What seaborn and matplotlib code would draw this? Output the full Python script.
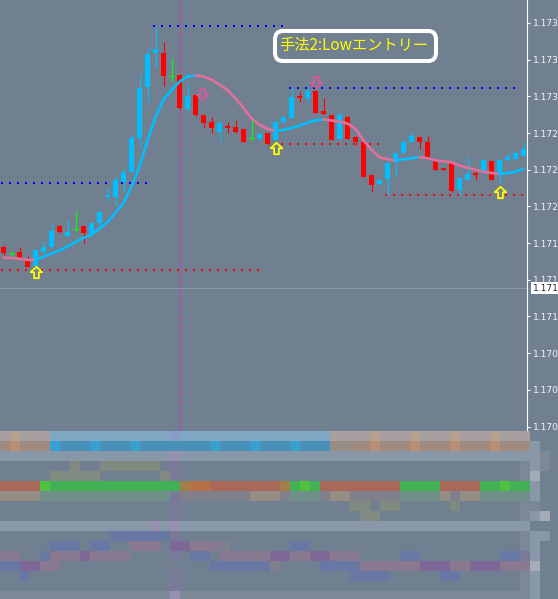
import numpy as np
import pandas as pd
import matplotlib
matplotlib.use("Agg")
import matplotlib.pyplot as plt
import seaborn as sns
from matplotlib.path import Path
from matplotlib.patches import FancyBboxPatch
from matplotlib.colors import ListedColormap
from matplotlib import transforms

# ---------------- data ----------------
opens = [1.17176, 1.17171, 1.17172, 1.17163, 1.17158, 1.17172, 1.17176, 1.17196, 1.17187, 1.17193,
         1.17196, 1.17190, 1.17199, 1.17224, 1.17224, 1.17238, 1.17248, 1.17280, 1.17329, 1.17361,
         1.17361, 1.17339, 1.17340, 1.17308, 1.17321, 1.17302, 1.17296, 1.17286, 1.17292, 1.17291,
         1.17289, 1.17280, 1.17279, 1.17285, 1.17278, 1.17296, 1.17299, 1.17320, 1.17318, 1.17325,
         1.17306, 1.17302, 1.17279, 1.17300, 1.17281, 1.17276, 1.17245, 1.17236, 1.17241, 1.17257,
         1.17266, 1.17276, 1.17281, 1.17276, 1.17260, 1.17252, 1.17256, 1.17231, 1.17240, 1.17247,
         1.17247, 1.17258, 1.17246, 1.17259, 1.17260, 1.17263]
highs = [1.17178, 1.17172, 1.17176, 1.17168, 1.17174, 1.17181, 1.17199, 1.17197, 1.17202, 1.17211,
         1.17196, 1.17200, 1.17210, 1.17234, 1.17243, 1.17251, 1.17283, 1.17342, 1.17367, 1.17386,
         1.17372, 1.17356, 1.17341, 1.17331, 1.17322, 1.17302, 1.17300, 1.17296, 1.17296, 1.17297,
         1.17289, 1.17297, 1.17285, 1.17285, 1.17297, 1.17301, 1.17328, 1.17324, 1.17328, 1.17325,
         1.17318, 1.17302, 1.17305, 1.17301, 1.17282, 1.17276, 1.17246, 1.17240, 1.17256, 1.17266,
         1.17278, 1.17286, 1.17281, 1.17282, 1.17260, 1.17252, 1.17258, 1.17242, 1.17262, 1.17249,
         1.17260, 1.17258, 1.17260, 1.17266, 1.17267, 1.17276]
lows = [1.17169, 1.17166, 1.17166, 1.17157, 1.17154, 1.17171, 1.17176, 1.17190, 1.17186, 1.17192,
        1.17180, 1.17189, 1.17195, 1.17220, 1.17216, 1.17229, 1.17248, 1.17272, 1.17315, 1.17347,
        1.17330, 1.17334, 1.17308, 1.17307, 1.17301, 1.17290, 1.17285, 1.17276, 1.17285, 1.17285,
        1.17276, 1.17278, 1.17278, 1.17274, 1.17278, 1.17295, 1.17299, 1.17315, 1.17316, 1.17304,
        1.17303, 1.17278, 1.17278, 1.17279, 1.17274, 1.17243, 1.17229, 1.17235, 1.17226, 1.17245,
        1.17266, 1.17276, 1.17270, 1.17262, 1.17250, 1.17250, 1.17229, 1.17226, 1.17240, 1.17240,
        1.17247, 1.17240, 1.17237, 1.17258, 1.17260, 1.17263]
closes = [1.17171, 1.17171, 1.17167, 1.17157, 1.17173, 1.17176, 1.17192, 1.17191, 1.17191, 1.17193,
          1.17190, 1.17199, 1.17210, 1.17226, 1.17240, 1.17248, 1.17280, 1.17328, 1.17360, 1.17365,
          1.17339, 1.17339, 1.17309, 1.17320, 1.17302, 1.17295, 1.17290, 1.17295, 1.17290, 1.17286,
          1.17276, 1.17280, 1.17284, 1.17275, 1.17296, 1.17300, 1.17319, 1.17318, 1.17325, 1.17304,
          1.17303, 1.17278, 1.17302, 1.17279, 1.17276, 1.17243, 1.17235, 1.17240, 1.17256, 1.17266,
          1.17276, 1.17282, 1.17276, 1.17262, 1.17250, 1.17250, 1.17230, 1.17242, 1.17246, 1.17245,
          1.17259, 1.17240, 1.17259, 1.17262, 1.17266, 1.17270]
ma_values = [1.17166, 1.17166, 1.17165, 1.17164, 1.17164, 1.17167, 1.17170, 1.17173, 1.17177, 1.17181,
             1.17185, 1.17188, 1.17194, 1.17200, 1.17209, 1.17218, 1.17234, 1.17253, 1.17278, 1.17300,
             1.17317, 1.17326, 1.17334, 1.17339, 1.17340, 1.17339, 1.17336, 1.17331, 1.17326, 1.17318,
             1.17309, 1.17299, 1.17293, 1.17289, 1.17287, 1.17288, 1.17290, 1.17292, 1.17295, 1.17297,
             1.17298, 1.17297, 1.17296, 1.17294, 1.17289, 1.17278, 1.17269, 1.17262, 1.17260, 1.17259,
             1.17260, 1.17261, 1.17262, 1.17261, 1.17259, 1.17258, 1.17257, 1.17254, 1.17252, 1.17250,
             1.17248, 1.17247, 1.17246, 1.17247, 1.17248, 1.17251]

level_prices = [1.17387, 1.17237, 1.17154, 1.17328, 1.17275, 1.17226]
level_start = [19, 0, 0, 36, 35, 48]
level_end = [35, 18, 32, 64, 47, 65]
level_type = ["high", "high", "low", "high", "low", "low"]

up_signal_bar = [4, 34, 62]
up_signal_price = [1.17152, 1.17271, 1.17229]
down_signal_bar = [24.8, 39]
down_signal_price = [1.17322, 1.17334]

entry_bar = 22
tick_prices = [1.17005, 1.17040, 1.17075, 1.17110, 1.17145, 1.17180,
               1.17215, 1.17250, 1.17285, 1.17320, 1.17355, 1.17390]
hline_price = 1.17137
hline_label = "1.17113"
title_text = "手法2:Lowエントリー"

mosaic_palette = {
    '.': '#708090', 's': '#7a8898', 'g': '#8898a8', 'h': '#7c8896', 'x': '#a4acb8',
    'a': '#a8a0a0', 'A': '#b6a08e', 'b': '#80a8c4', 'd': '#8a9cc8', 'T': '#a08a80',
    'O': '#b88e74', 'n': '#968e84', 'B': '#4890b8', 'C': '#38a0d0', 'o': '#808a80',
    'R': '#aa6858', 'G': '#44b055', 'L': '#50c040', 'r': '#b87048', 'y': '#a08048',
    'm': '#6e9088', 'k': '#80808c', 'p': '#6878a4', 'q': '#887890', 'v': '#7e6898',
    'u': '#9890b0', 'w': '#7a7a98',
}
mosaic_rows = [
    "aAaaa" + "b" * 12 + "d" + "b" * 15 + "aaaaAaaaAaaaAaaaAaaa" + "..",
    "TOTTT" + "CBBBCBBBCBBB" + "B" + "BBBCBBBCBBBCBBB" + "nnTTOTTTOTTTOTTTOTTT" + "g.",
    "g" * 17 + "u" + "g" * 35 + "gs",
    "." * 7 + "o" + ".." + "o" * 6 + "." + "w" + "." * 34 + "s" + "gs",
    "." * 5 + "o" * 5 + "." * 6 + "o" + "w" + "." * 34 + "s" + "x.",
    "RRRR" + "L" + "G" * 13 + "y" + "rr" + "R" * 7 + "y" + "GLG" + "R" * 8 + "GGGG" + "RRRR" + "GGLGG" + "g.",
    "nnnn" + "m" * 13 + "w" + "k" * 7 + "nnn" + "k" + "mmm" + "k" + "nn" + "kkkkk" + "mmmm" + "n" + "k" + "nn" + "mm" + "mmm" + "g.",
    "." * 17 + "w" + "." * 17 + "oo" + "." + "oo" + "." * 5 + "o" + "." * 6 + "s" + "s.",
    "." * 17 + "w" + "." * 18 + "oo" + "." * 14 + "s" + "gx",
    "g" * 15 + "u" + "g" + "u" + "g" * 35 + "..",
    "." * 11 + "ppppp" + "p" + "w" + "." * 34 + "s" + "gg",
    "." * 5 + "ppp" + "." + "pp" + ".." + "qqq" + "." + "vv" + "qqq" + "k" + "." * 6 + "pp" + "." * 21 + "s" + "g.",
    "qq" + ".." + "p" + "qqq" + "v" + "qqqq" + "...." + "w" + "." + "pp" + "." + "qqqqq" + "vv" + "qq" + "vv" + "qqq" + "...." + "pp" + "." * 8 + "pp" + "w" + "g.",
    "pp" + "vv" + "qq" + "." * 15 + "pppppp" + "k" + "...." + "pppp" + "qqqq" + "qq" + "vvv" + "qq" + "vvv" + "qq" + "q" + "x.",
    ".." + "p" + "." * 14 + "w" + "." * 17 + "pppp" + "." * 5 + "pp" + "." * 6 + "s" + "g.",
    "." * 17 + "w" + "." * 34 + "s" + "g.",
    "h" * 17 + "u" + "h" * 35 + "g.",
]

# ---------------- style ----------------
BG = '#708090'
BULL = '#00bfff'
BEAR = '#ff0000'
DOJI = '#00ff00'
MA_UP = '#00bfff'
MA_DN = '#e0719a'

sns.set_style('dark', {'axes.facecolor': BG, 'figure.facecolor': BG})
plt.rcParams['font.family'] = ['DejaVu Sans']

W, H = 558, 599
fig = plt.figure(figsize=(W / 100, H / 100), dpi=100)
fig.patch.set_facecolor(BG)

ax = fig.add_axes([0, (H - 431) / H, 527 / W, 431 / H])
ax.set_facecolor(BG)

df = pd.DataFrame(dict(x=np.arange(len(opens)), o=opens, h=highs, l=lows, c=closes))
bull = df[df.c > df.o]
bear = df[df.c < df.o]
doji = df[df.c == df.o]

ax.vlines(bull.x, bull.l, bull.h, color=BULL, lw=0.8, zorder=3)
ax.bar(bull.x, bull.c - bull.o, bottom=bull.o, width=0.72, color=BULL, linewidth=0, zorder=3)
ax.vlines(bear.x, bear.l, bear.h, color=BEAR, lw=0.8, zorder=3)
ax.bar(bear.x, bear.o - bear.c, bottom=bear.c, width=0.72, color=BEAR, linewidth=0, zorder=3)
ax.vlines(doji.x, doji.l, doji.h, color=DOJI, lw=0.8, zorder=3)
ax.hlines(doji.c, doji.x - 0.33, doji.x + 0.33, color=DOJI, lw=0.8, zorder=3)

# moving average coloured by direction
ma = np.array(ma_values)
dirs = np.where(np.diff(ma) > 0, 1, 0)
start = 0
for i in range(1, len(dirs) + 1):
    if i == len(dirs) or dirs[i] != dirs[start]:
        seg = slice(start, i + 1)
        ax.plot(df.x[seg], ma[seg], color=MA_UP if dirs[start] else MA_DN,
                lw=1.9, solid_capstyle='round', zorder=4)
        start = i

# dotted high/low levels
for p, s, e, t in zip(level_prices, level_start, level_end, level_type):
    xs = np.arange(s, e + 1) - 0.25
    sns.scatterplot(x=xs, y=np.full(len(xs), p), marker='s', s=2.6, linewidth=0,
                    color='#0000ff' if t == 'high' else '#ff0000', ax=ax, zorder=2)

# vertical entry line
ax.axvline(entry_bar, color='#c040c0', lw=0.8, dashes=(5.5, 2.2), zorder=2)

# current price line
ax.axhline(hline_price, color='#8a9aac', lw=0.7, zorder=1)

# arrows
up_path = Path([(0, 1), (1, 0.05), (0.42, 0.05), (0.42, -1), (-0.42, -1),
                (-0.42, 0.05), (-1, 0.05), (0, 1)], closed=True)
down_path = Path([(0, -1), (1, -0.05), (0.42, -0.05), (0.42, 1), (-0.42, 1),
                  (-0.42, -0.05), (-1, -0.05), (0, -1)], closed=True)
ax.plot(up_signal_bar, up_signal_price, ls='none', marker=up_path, ms=8.2,
        mfc='none', mec='#ffff00', mew=1.3, zorder=5)
ax.plot(down_signal_bar, down_signal_price, ls='none', marker=down_path, ms=8.2,
        mfc='none', mec='#d8589a', mew=1.3, zorder=5)

ax.set_xlim(-0.4375, 65.4375)
ax.set_ylim(1.1700076, 1.1741194)
ax.set_xticks([])
ax.yaxis.tick_right()
ax.set_yticks(tick_prices)
ax.set_yticklabels([f'{t:.5f}' for t in tick_prices])
ax.tick_params(axis='y', colors='white', labelsize=6.6, length=2.5, width=0.8, pad=2,
               direction='out', labelcolor='#f4f4f4')
for side in ['left', 'top', 'bottom']:
    ax.spines[side].set_visible(False)
ax.spines['right'].set_color('white')
ax.spines['right'].set_linewidth(0.8)
ax.grid(False)

ax.annotate(hline_label, xy=(1, hline_price), xycoords=('axes fraction', 'data'),
            xytext=(4, 0), textcoords='offset points', ha='left', va='center',
            fontsize=6.6, color='#202830', annotation_clip=False,
            bbox=dict(boxstyle='square,pad=0.15', fc='white', ec='white', lw=0))

# title box
box = FancyBboxPatch((275 / W, 1 - 61 / H), 161 / W, 30 / H,
                     boxstyle='round,pad=0,rounding_size=0.014',
                     transform=fig.transFigure, fc='none', ec='white', lw=2.9)
fig.add_artist(box)
fig.text(353.5 / W, 1 - 45.5 / H, title_text, ha='center', va='center', color='#ffff00',
         fontsize=11, family=['Noto Sans CJK JP', 'DejaVu Sans'])

# mosaic indicator panel
codes = sorted(mosaic_palette)
code_idx = {k: i for i, k in enumerate(codes)}
grid = np.array([[code_idx[ch] for ch in row[:55].ljust(55, '.')] for row in mosaic_rows])
cmap = ListedColormap([mosaic_palette[k] for k in codes])
ax2 = fig.add_axes([0, -2 / H, 550 / W, 170 / H])
sns.heatmap(grid, cmap=cmap, vmin=-0.5, vmax=len(codes) - 0.5, cbar=False, ax=ax2,
            xticklabels=False, yticklabels=False, linewidths=0)
ax2.set_axis_off()

fig.savefig('out.png', dpi=100, facecolor=BG)
